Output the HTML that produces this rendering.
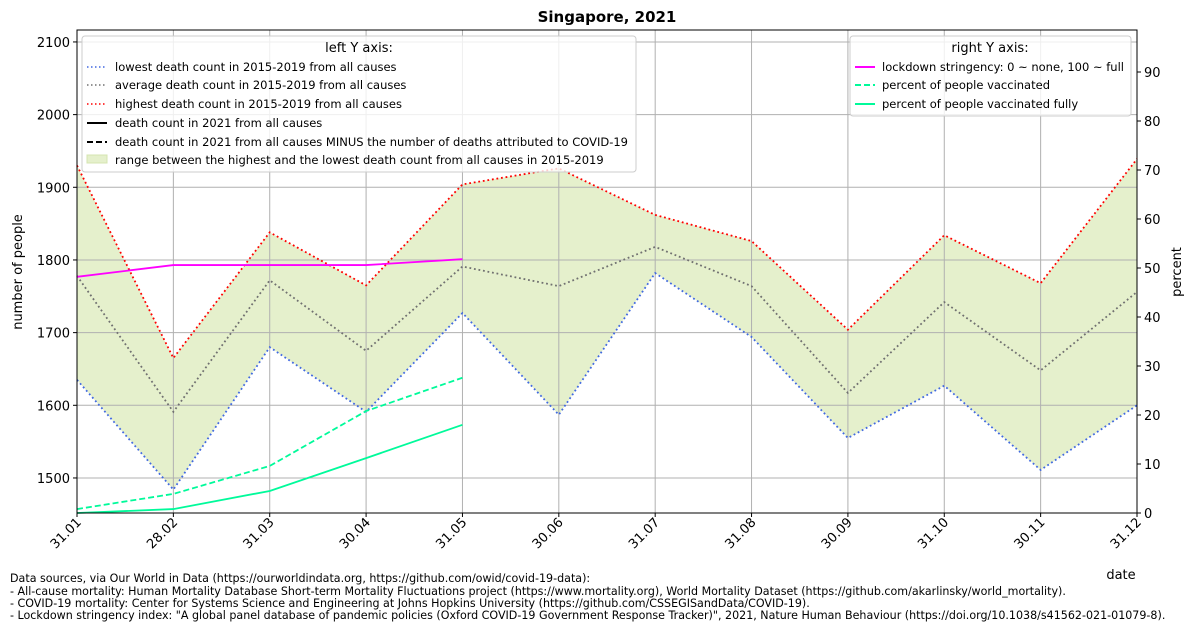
<!DOCTYPE html>
<html><head><meta charset="utf-8"><style>
body{margin:0;background:#fff;font-family:"Liberation Sans","DejaVu Sans",sans-serif}
svg text{font-family:"DejaVu Sans","Liberation Sans",sans-serif}
</style></head><body>
<svg id="chart" width="1194" height="630" xmlns="http://www.w3.org/2000/svg">
<rect width="1194" height="630" fill="#fff"/>
<text x="607" y="22" text-anchor="middle" font-size="15" font-weight="bold">Singapore, 2021</text>
<g id="fills"></g><g id="grid"></g><g id="lines"></g><g id="axes"></g>
<rect x="77" y="30" width="1060" height="483" fill="none" stroke="#000" stroke-width="1"/>
<g font-size="11.5">
<rect x="82" y="36" width="554" height="136" fill="#fff" fill-opacity="0.8" stroke="#ccc" rx="3"/>
<text x="359" y="52" text-anchor="middle" font-size="13">left Y axis:</text>
<line x1="87" y1="67" x2="107" y2="67" stroke="#4169e1" stroke-width="1.6" stroke-dasharray="1.5,2.5"/><text x="115" y="71">lowest death count in 2015-2019 from all causes</text>
<line x1="87" y1="85" x2="107" y2="85" stroke="#707070" stroke-width="1.6" stroke-dasharray="1.5,2.5"/><text x="115" y="89">average death count in 2015-2019 from all causes</text>
<line x1="87" y1="104" x2="107" y2="104" stroke="#f00" stroke-width="1.6" stroke-dasharray="1.5,2.5"/><text x="115" y="108">highest death count in 2015-2019 from all causes</text>
<line x1="87" y1="123" x2="107" y2="123" stroke="#000" stroke-width="2"/><text x="115" y="127">death count in 2021 from all causes</text>
<line x1="87" y1="142" x2="107" y2="142" stroke="#000" stroke-width="2" stroke-dasharray="6,3"/><text x="115" y="146">death count in 2021 from all causes MINUS the number of deaths attributed to COVID-19</text>
<rect x="87" y="155" width="20" height="8" fill="#e5f0cc" stroke="#d5e5b0"/><text x="115" y="164">range between the highest and the lowest death count from all causes in 2015-2019</text>
</g>
<g font-size="11.5">
<rect x="850" y="36" width="281" height="80" fill="#fff" fill-opacity="0.8" stroke="#ccc" rx="3"/>
<text x="990" y="52" text-anchor="middle" font-size="13">right Y axis:</text>
<line x1="855" y1="67" x2="875" y2="67" stroke="#f0f" stroke-width="2"/><text x="882" y="71">lockdown stringency: 0 ~ none, 100 ~ full</text>
<line x1="855" y1="85" x2="875" y2="85" stroke="#00fa9a" stroke-width="2" stroke-dasharray="6,3"/><text x="882" y="89">percent of people vaccinated</text>
<line x1="855" y1="104" x2="875" y2="104" stroke="#00fa9a" stroke-width="2"/><text x="882" y="108">percent of people vaccinated fully</text>
</g>
<text transform="translate(22,272) rotate(-90)" text-anchor="middle" font-size="13">number of people</text>
<text transform="translate(1181,272) rotate(-90)" text-anchor="middle" font-size="13">percent</text>
<text x="1121" y="579" text-anchor="middle" font-size="13">date</text>
<g font-size="11.1">
<text x="10" y="582">Data sources, via Our World in Data (https://ourworldindata.org, https://github.com/owid/covid-19-data):</text>
<text x="10" y="595">- All-cause mortality: Human Mortality Database Short-term Mortality Fluctuations project (https://www.mortality.org), World Mortality Dataset (https://github.com/akarlinsky/world_mortality).</text>
<text x="10" y="607">- COVID-19 mortality: Center for Systems Science and Engineering at Johns Hopkins University (https://github.com/CSSEGISandData/COVID-19).</text>
<text x="10" y="619">- Lockdown stringency index: "A global panel database of pandemic policies (Oxford COVID-19 Government Response Tracker)", 2021, Nature Human Behaviour (https://doi.org/10.1038/s41562-021-01079-8).</text>
</g>
</svg>
<script>
const categories=["31.01","28.02","31.03","30.04","31.05","30.06","31.07","31.08","30.09","31.10","30.11","31.12"];
const highest=[1930,1665,1838,1765,1904,1926,1862,1826,1704,1834,1768,1939];
const average=[1778,1591,1772,1675,1791,1764,1818,1764,1617,1742,1648,1756];
const lowest=[1635,1484,1680,1591,1727,1587,1782,1694,1555,1627,1511,1600];
const stringency=[48.2,50.6,50.6,50.6,51.8];
const vaccinated=[0.8,3.9,9.6,20.8,27.6];
const vaccinatedFully=[0,0.8,4.5,11.2,18.0];
const leftTicks=[1500,1600,1700,1800,1900,2000,2100];
const rightTicks=[0,10,20,30,40,50,60,70,80,90];
const NS="http://www.w3.org/2000/svg";
const X0=77,X1=1137,YB=513,YT=30;
const xs=i=>X0+i*(X1-X0)/(categories.length-1);
const yl=v=>514.3-(v-1450)*0.7267;
const yr=v=>YB-v*4.9;
function mk(tag,attrs,parent){const e=document.createElementNS(NS,tag);for(const k in attrs)e.setAttribute(k,attrs[k]);document.getElementById(parent).appendChild(e);return e;}
let pts=highest.map((v,i)=>xs(i)+","+yl(v)).concat(lowest.map((v,i)=>[xs(i),yl(v)]).reverse().map(p=>p.join(",")));
let f=mk("polygon",{points:pts.join(" "),fill:"#e5f0cc"},"fills");


categories.forEach((c,i)=>{
 let g=mk("line",{x1:xs(i),x2:xs(i),y1:YT,y2:YB,stroke:"#b0b0b0","stroke-width":1},"grid");
 
 
 mk("line",{x1:xs(i),x2:xs(i),y1:YB,y2:YB+4,stroke:"#000"},"axes");
 let t=mk("text",{transform:`translate(${xs(i)+5},${YB+10}) rotate(-45)`,"text-anchor":"end","font-size":13},"axes");
 t.textContent=c;
 
 
});
leftTicks.forEach(v=>{
 let g=mk("line",{x1:X0,x2:X1,y1:yl(v),y2:yl(v),stroke:"#b0b0b0","stroke-width":1},"grid");
 
 
 mk("line",{x1:X0-4,x2:X0,y1:yl(v),y2:yl(v),stroke:"#000"},"axes");
 let t=mk("text",{x:X0-7,y:yl(v)+5,"text-anchor":"end","font-size":13},"axes");
 t.textContent=v;
 
 
});
rightTicks.forEach(v=>{
 mk("line",{x1:X1,x2:X1+4,y1:yr(v),y2:yr(v),stroke:"#000"},"axes");
 let t=mk("text",{x:X1+7,y:yr(v)+5,"font-size":13},"axes");
 t.textContent=v;
 
 
});
function line(arr,yf,color,dash,name,w){
 let p=mk("polyline",{points:arr.map((v,i)=>xs(i)+","+yf(v)).join(" "),fill:"none",stroke:color,"stroke-width":w||1.6,"stroke-dasharray":dash||"none"},"lines");
 
 
}
line(lowest,yl,"#4169e1","1.8,2.8","lowest-line",1.8);
line(average,yl,"#707070","1.8,2.8","average-line",1.8);
line(highest,yl,"#f00","1.8,2.8","highest-line",1.8);
line(stringency,yr,"#f0f","","stringency-line",1.8);
line(vaccinated,yr,"#00fa9a","6,3","vaccinated-line",1.8);
line(vaccinatedFully,yr,"#00fa9a","","vaccinated-fully-line",1.8);
</script>
</body></html>
